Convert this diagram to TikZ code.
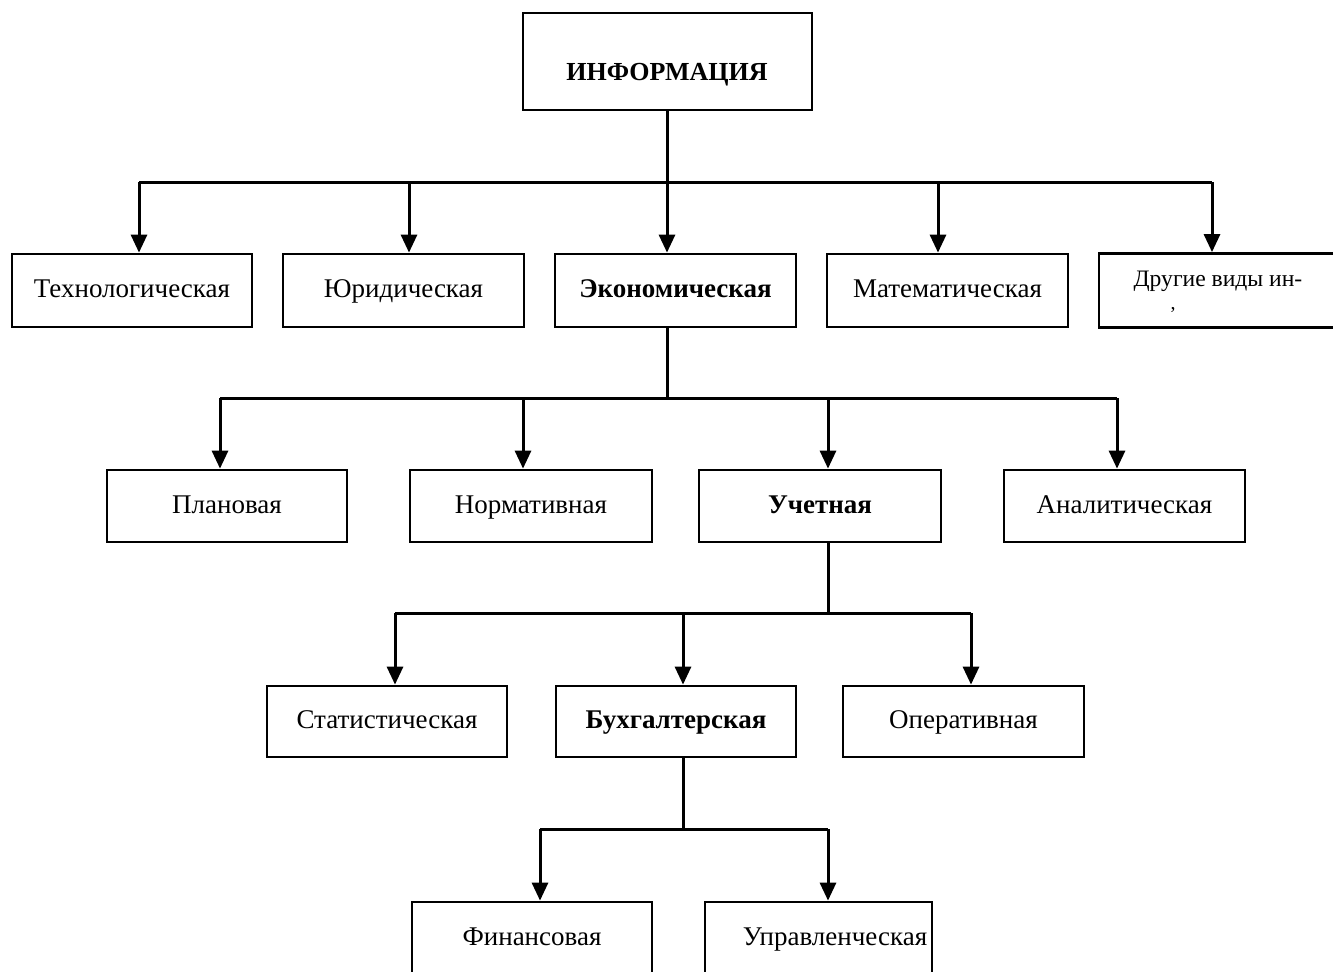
\documentclass[tikz,border=0pt]{standalone}
\usepackage{fontspec}
\setmainfont{Liberation Serif}
\usetikzlibrary{arrows.meta}
\begin{document}
\begin{tikzpicture}[x=0.5pt,y=-0.5pt,
  box/.style={draw=black, line width=1.4pt, fill=white, inner sep=0pt, text height=9.5pt, text depth=2.5pt, font=\fontsize{13.5}{15}\selectfont},
  conn/.style={line width=1.5pt},
  arr/.style={line width=1.5pt, -{Triangle[length=9pt,width=8pt]}},
  lbl/.style={inner sep=0pt, text height=9.5pt, text depth=2.5pt, font=\fontsize{13.5}{15}\selectfont}
]
\clip (0,0) rectangle (1333,971);
\fill[white] (0,0) rectangle (1333,971);

% top
\node[box, minimum width=144.5pt, minimum height=48.5pt] (info) at (667.5,61.5) {};
\node[lbl, font=\fontsize{13}{15}\selectfont\bfseries] (infot) at (667,73) {ИНФОРМАЦИЯ};

% level 1
\node[box, minimum width=120pt, minimum height=36.5pt] (tech) at (132,290.5) {Технологическая};
\node[box, minimum width=120.5pt, minimum height=36.5pt] (jur) at (403.5,290.5) {Юридическая};
\node[box, minimum width=120.5pt, minimum height=36.5pt, font=\fontsize{13.5}{15}\selectfont\bfseries] (econ) at (675.5,290.5) {Экономическая};
\node[box, minimum width=120.5pt, minimum height=36.5pt] (math) at (947.5,290.5) {Математическая};
\node[box, minimum width=120.5pt, minimum height=37pt] (other) at (1219.5,290.5) {};
\node[lbl, font=\fontsize{11.8}{13}\selectfont] (othert) at (1218,279) {Другие виды ин-};
\node[inner sep=0pt, font=\fontsize{10}{11}\selectfont] (othert2) at (1173,310) {,};

% level 2
\node[box, minimum width=120pt, minimum height=36pt] (plan) at (227,506) {Плановая};
\node[box, minimum width=121pt, minimum height=36pt] (norm) at (531,506) {Нормативная};
\node[box, minimum width=121pt, minimum height=36pt, font=\fontsize{13.5}{15}\selectfont\bfseries] (uch) at (820,506) {Учетная};
\node[box, minimum width=120.5pt, minimum height=36pt] (anal) at (1124.5,506) {Аналитическая};

% level 3
\node[box, minimum width=120pt, minimum height=35.5pt] (stat) at (387,721.5) {Статистическая};
\node[box, minimum width=120pt, minimum height=35.5pt, font=\fontsize{13.5}{15}\selectfont\bfseries] (buh) at (676,721.5) {Бухгалтерская};
\node[box, minimum width=120.5pt, minimum height=35.5pt] (oper) at (963.5,721.5) {Оперативная};

% level 4
\node[box, minimum width=120pt, minimum height=36pt] (fin) at (532,938) {Финансовая};
\node[box, minimum width=113.5pt, minimum height=36pt] (upr) at (818.5,938) {};
\node[lbl] (uprt) at (835,938) {Управленческая};

% connectors level 1
\coordinate (t0) at (667,182);
\coordinate (t1) at (139,182);
\coordinate (t2) at (409,182);
\coordinate (t3) at (667,182);
\coordinate (t4) at (938,182);
\coordinate (t5) at (1212,182);
\draw[conn] (t0 |- info.south) -- (t0);
\draw[conn] (t1) -- (t5);
\draw[arr] (t1) -- (t1 |- tech.north);
\draw[arr] (t2) -- (t2 |- jur.north);
\draw[arr] (t3) -- (t3 |- econ.north);
\draw[arr] (t4) -- (t4 |- math.north);
\draw[arr] (t5) -- (t5 |- other.north);

% level 2
\coordinate (e0) at (667,398);
\coordinate (e1) at (220,398);
\coordinate (e2) at (523,398);
\coordinate (e3) at (828,398);
\coordinate (e4) at (1117,398);
\draw[conn] (e0 |- econ.south) -- (e0);
\draw[conn] (e1) -- (e4);
\draw[arr] (e1) -- (e1 |- plan.north);
\draw[arr] (e2) -- (e2 |- norm.north);
\draw[arr] (e3) -- (e3 |- uch.north);
\draw[arr] (e4) -- (e4 |- anal.north);

% level 3
\coordinate (u0) at (828,613);
\coordinate (u1) at (395,613);
\coordinate (u2) at (683,613);
\coordinate (u3) at (971,613);
\draw[conn] (u0 |- uch.south) -- (u0);
\draw[conn] (u1) -- (u3);
\draw[arr] (u1) -- (u1 |- stat.north);
\draw[arr] (u2) -- (u2 |- buh.north);
\draw[arr] (u3) -- (u3 |- oper.north);

% level 4
\coordinate (b0) at (683,829);
\coordinate (b1) at (540,829);
\coordinate (b2) at (828,829);
\draw[conn] (b0 |- buh.south) -- (b0);
\draw[conn] (b1) -- (b2);
\draw[arr] (b1) -- (b1 |- fin.north);
\draw[arr] (b2) -- (b2 |- upr.north);
\end{tikzpicture}
\end{document}
